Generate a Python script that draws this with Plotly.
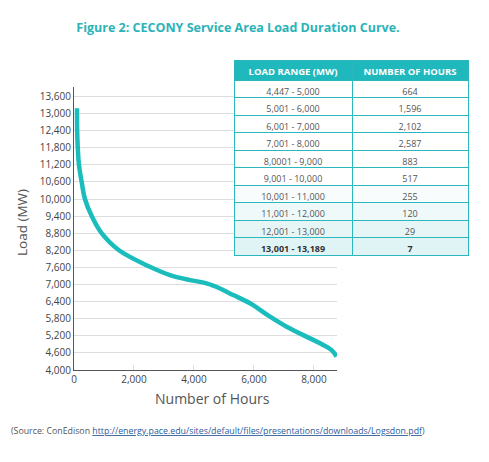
import plotly.graph_objects as go

# load duration curve
hours = [100, 105, 125, 165, 255, 365, 590, 920, 1500, 2530, 3200, 3870, 4420,
         4870, 5310, 5870, 6450, 7090, 7870, 8310, 8590, 8757]
load_mw = [13180, 12400, 11800, 11200, 10600, 10000, 9400, 8800, 8200, 7620, 7330,
           7155, 7040, 6860, 6630, 6340, 5930, 5520, 5110, 4880, 4700, 4470]

# table
load_ranges = ["4,447 - 5,000", "5,001 - 6,000", "6,001 - 7,000", "7,001 - 8,000",
               "8,0001 - 9,000", "9,001 - 10,000", "10,001 - 11,000",
               "11,001 - 12,000", "12,001 - 13,000"]
num_hours = ["664", "1,596", "2,102", "2,587", "883", "517", "255", "120", "29"]
row_fill = ["#ffffff"] * 6 + ["#f8fcfd", "#eff9fa", "#e6f6f7"]
# last (peak) row is shown in bold
peak_range = "13,001 - 13,189"
peak_hours = "7"

y_ticks = list(range(4000, 13601, 600))
x_ticks = [0, 2000, 4000, 6000, 8000]

teal = "#1bbdbc"
W, H = 489, 462
FONT = "Open Sans"
HEAD_H, ROW_H = 20, 17.5
T_TOP, T_X = 60, [234 / W, 468 / W]

fig = go.Figure()
fig.add_trace(go.Scatter(x=hours, y=load_mw, mode='lines', line=dict(color=teal, width=4.5, shape='spline'),
                         showlegend=False, hoverinfo='skip'))

fig.add_trace(go.Table(
    domain=dict(x=T_X, y=[0.2, 1 - T_TOP / H]),
    columnwidth=[118, 116],
    header=dict(values=["LOAD RANGE (MW)", "NUMBER OF HOURS"],
                fill_color="#1fb8bd", line_color="#2ab8be", height=HEAD_H,
                font=dict(family=FONT, size=9.5, color="white", weight="bold"), align='center'),
    cells=dict(values=[load_ranges, num_hours], fill_color=[row_fill, row_fill],
               line_color="#2ab8be", height=ROW_H,
               font=dict(family=FONT, size=9, color="#555555"), align='center'),
))
# the bold peak row, drawn as the one-row header of a second table just below
peak_top = T_TOP + HEAD_H + ROW_H * len(load_ranges)
fig.add_trace(go.Table(
    domain=dict(x=T_X, y=[0.1, 1 - peak_top / H]),
    columnwidth=[118, 116],
    header=dict(values=[peak_range, peak_hours], fill_color="#e0f4f6",
                line_color="#2ab8be", height=ROW_H,
                font=dict(family=FONT, size=9, color="#333333", weight="bold"), align='center'),
    cells=dict(values=[[], []], height=0, fill_color='rgba(0,0,0,0)', line_width=0),
))

fig.update_xaxes(domain=[74 / W, 337 / W], range=[0, 8770], tickvals=x_ticks, tickformat=',d',
                 showgrid=False, zeroline=False, automargin=False,
                 showline=True, linecolor='#555555', linewidth=1.2,
                 ticks='inside', ticklen=5, tickcolor='#dddddd',
                 tickfont=dict(family=FONT, size=10, color='#444444'))
fig.update_yaxes(domain=[1 - 370 / H, 1 - 87 / H], range=[4000, 13930], tickvals=y_ticks, tickformat=',d',
                 showgrid=True, gridcolor='#dedede', automargin=False,
                 zeroline=False, showline=True, linecolor='#555555', linewidth=1.2,
                 tickfont=dict(family=FONT, size=10, color='#444444'))

fig.update_layout(
    width=W, height=H, plot_bgcolor='white', paper_bgcolor='white',
    margin=dict(l=0, r=0, t=0, b=0),
    title=dict(text='<b>Figure 2: CECONY Service Area Load Duration Curve.</b>', xref='paper', yref='paper',
               x=238 / W, xanchor='center', y=1 - 28 / H, yanchor='middle',
               font=dict(family=FONT, size=12.5, color='#2ab3b8')),
)

fig.add_annotation(text='Number of Hours', xref='paper', yref='paper', x=212 / W, y=1 - 398 / H,
                   xanchor='center', yanchor='middle', showarrow=False,
                   font=dict(family=FONT, size=14, color='#555555'))
fig.add_annotation(text='Load (MW)', xref='paper', yref='paper', x=22 / W, y=1 - 223 / H, textangle=-90,
                   xanchor='center', yanchor='middle', showarrow=False,
                   font=dict(family=FONT, size=13.5, color='#555555'))

fig.add_annotation(
    text='(Source: ConEdison <a href="http://energy.pace.edu/sites/default/files/presentations/downloads/Logsdon.pdf">'
         '<span style="color:#2a5a9a"><u>http://energy.pace.edu/sites/default/files/presentations/downloads/Logsdon.pdf</u></span></a>)',
    xref='paper', yref='paper', x=9 / W, y=1 - 431 / H, xanchor='left', yanchor='middle',
    showarrow=False, font=dict(family=FONT, size=8.8, color='#555555'))

# page body has an 8px margin by default; drop it so the figure sits at 0,0
fig.write_html("out.html", config={'displayModeBar': False},
               post_script="document.body.style.margin='0';")
